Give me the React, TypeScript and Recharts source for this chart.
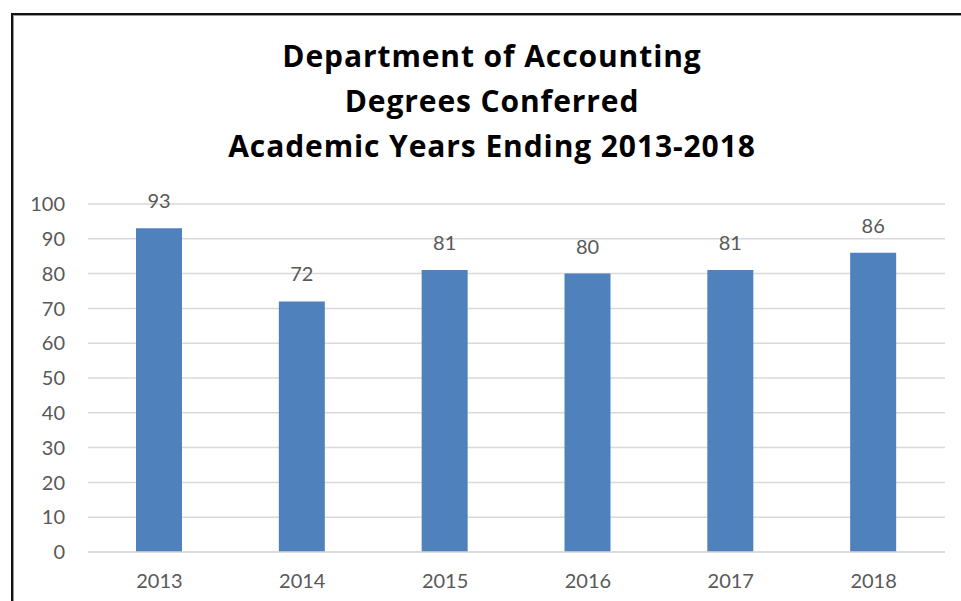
import React from 'react';
import { BarChart, Bar, XAxis, YAxis, CartesianGrid, LabelList } from 'recharts';

const years = ['2013', '2014', '2015', '2016', '2017', '2018'];
const degrees = [93, 72, 81, 80, 81, 86];
const yTicks = [0, 10, 20, 30, 40, 50, 60, 70, 80, 90, 100];
const titleLines = [
  'Department of Accounting',
  'Degrees Conferred',
  'Academic Years Ending 2013-2018',
];

const data = years.map((year, i) => ({ year, value: degrees[i] }));

const font = 'Lato, "Liberation Sans", sans-serif';
const textColor = '#595959';

export default function App() {
  return (
    <div
      style={{
        position: 'fixed',
        left: 0,
        top: 0,
        width: 961,
        height: 601,
        overflow: 'hidden',
        background: '#fff',
        fontFamily: font,
      }}
    >
      {/* chart frame, right and bottom edges fall outside the window */}
      <div
        style={{
          position: 'absolute',
          left: 11,
          top: 13,
          width: 1000,
          height: 700,
          border: '2px solid #111',
          boxShadow: 'inset 1px 1px 0 #999',
        }}
      />
      {titleLines.map((line, i) => (
        <div
          key={line}
          style={{
            position: 'absolute',
            left: 0,
            width: 984,
            top: 37 + i * 45,
            lineHeight: '38px',
            textAlign: 'center',
            fontWeight: 700,
            fontSize: 30,
            letterSpacing: 0.9,
            fontFamily: '"Open Sans", sans-serif',
            color: '#000',
          }}
        >
          {line}
        </div>
      ))}
      <div style={{ position: 'absolute', left: 0, top: 0 }}>
        <BarChart
          width={961}
          height={601}
          data={data}
          margin={{ top: 204, right: 16, bottom: 0, left: 0 }}
        >
          <CartesianGrid vertical={false} stroke="#d9d9d9" strokeWidth={1.5} />
          <XAxis
            dataKey="year"
            axisLine={{ stroke: '#d9d9d9', strokeWidth: 1.5 }}
            tickLine={false}
            tickSize={0}
            tickMargin={22}
            height={49}
            tick={{ fill: textColor, fontSize: 20, fontFamily: font }}
          />
          <YAxis
            domain={[0, 100]}
            ticks={yTicks}
            width={88}
            axisLine={false}
            tickLine={false}
            tickSize={0}
            tickMargin={23}
            tick={{ fill: textColor, fontSize: 20, fontFamily: font }}
          />
          <Bar dataKey="value" fill="#4f81bd" barSize={46} isAnimationActive={false}>
            <LabelList
              dataKey="value"
              position="top"
              offset={20}
              fill={textColor}
              fontSize={20}
              fontFamily={font}
            />
          </Bar>
        </BarChart>
      </div>
    </div>
  );
}
